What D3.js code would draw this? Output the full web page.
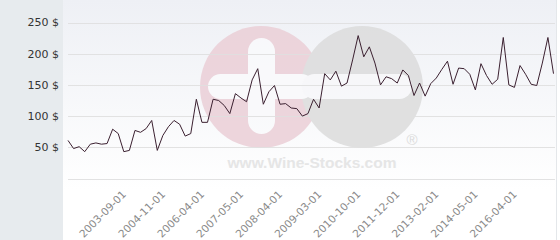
<!DOCTYPE html>
<html>
<head>
<meta charset="utf-8">
<script src="https://cdn.jsdelivr.net/npm/d3@7"></script>
<style>
  body { margin: 0; background: #fff; }
  svg { display: block; font-family: "DejaVu Sans", Verdana, sans-serif; }
</style>
</head>
<body>
<div id="chart"></div>
<script>
// price series, one value per point (in $)
var prices = [61, 48, 51, 43, 55, 57, 55, 56, 79, 72,
  43, 45, 77, 74, 80, 93, 45, 69, 83, 93,
  87, 68, 72, 127, 90, 90, 127, 125, 117, 104,
  136, 129, 123, 158, 176, 119, 139, 149, 119, 120,
  113, 112, 100, 104, 127, 113, 168, 158, 172, 148,
  153, 190, 229, 195, 211, 185, 150, 163, 160, 153,
  174, 165, 133, 153, 132, 152, 161, 175, 188, 151,
  177, 176, 167, 142, 184, 165, 151, 159, 226, 150,
  146, 181, 167, 151, 149, 185, 226, 168];

// category labels shown on the x axis, and the point they sit under
var tickLabels = ["2003-09-01", "2004-11-01", "2006-04-01", "2007-05-01", "2008-04-01",
  "2009-03-01", "2010-10-01", "2011-12-01", "2013-02-01", "2014-05-01", "2016-04-01"];
var tickIndex = [10, 17, 24, 31, 38, 45, 52, 59, 66, 73, 80];

var yTicks = [50, 100, 150, 200, 250];

var svgWidth = 560;
var svgHeight = 240;

var plot = { left: 63, right: 556, top: 0, bottom: 178.5 };

var svg = d3.select("#chart")
  .append("svg")
  .attr("width", svgWidth)
  .attr("height", svgHeight);

var defs = svg.append("defs");
var grad = defs.append("linearGradient")
  .attr("id", "bg")
  .attr("x1", 0).attr("y1", 0).attr("x2", 0).attr("y2", 1);
grad.append("stop").attr("offset", "0%").attr("stop-color", "#eef0f5");
grad.append("stop").attr("offset", "100%").attr("stop-color", "#ffffff");

// left grey band and plot background
svg.append("rect")
  .attr("x", 0).attr("y", 0)
  .attr("width", plot.left).attr("height", svgHeight)
  .attr("fill", "#e7ebee");

svg.append("rect")
  .attr("x", plot.left).attr("y", 0)
  .attr("width", plot.right - plot.left).attr("height", plot.bottom + 12)
  .attr("fill", "url(#bg)");

svg.append("line")
  .attr("x1", plot.right + 0.5).attr("x2", plot.right + 0.5)
  .attr("y1", 0).attr("y2", svgHeight)
  .attr("stroke", "#e4e7ea");

var x = d3.scaleLinear()
  .domain([0, prices.length - 1])
  .range([68, 553.5]);

var y = d3.scaleLinear()
  .domain([0, 250])
  .range([plot.bottom, 22.5]);

// watermark
var wm = svg.append("g").attr("opacity", 0.85);
wm.append("circle").attr("cx", 261).attr("cy", 87).attr("r", 61).attr("fill", "#ebcfd7");
wm.append("circle").attr("cx", 362).attr("cy", 87).attr("r", 61).attr("fill", "#dcdcdc");
wm.append("rect").attr("x", 248).attr("y", 38).attr("width", 27).attr("height", 96)
  .attr("rx", 13.5).attr("fill", "#fafafc");
wm.append("rect").attr("x", 208).attr("y", 74).attr("width", 106).attr("height", 25)
  .attr("rx", 12.5).attr("fill", "#fafafc");
wm.append("rect").attr("x", 302).attr("y", 74).attr("width", 110).attr("height", 25)
  .attr("rx", 12.5).attr("fill", "#f8f8fa");
wm.append("text")
  .attr("x", 412).attr("y", 140)
  .attr("dy", "0.35em")
  .attr("text-anchor", "middle")
  .attr("font-family", "Liberation Sans, Arial, sans-serif")
  .attr("font-size", 15)
  .attr("fill", "#d6d6d6")
  .text("®");
wm.append("text")
  .attr("x", 312).attr("y", 168)
  .attr("text-anchor", "middle")
  .attr("font-family", "Liberation Sans, Arial, sans-serif")
  .attr("font-weight", "bold")
  .attr("font-size", 15.5)
  .attr("fill", "#e2e2e2")
  .text("www.Wine-Stocks.com");

// grid lines
svg.append("g")
  .selectAll("line")
  .data([0].concat(yTicks))
  .enter().append("line")
  .attr("x1", 68).attr("x2", 555)
  .attr("y1", d => Math.round(y(d)) + 0.5)
  .attr("y2", d => Math.round(y(d)) + 0.5)
  .attr("stroke", "#e0e0e0")
  .attr("opacity", 0.9);

// y labels
svg.append("g")
  .selectAll("text")
  .data(yTicks)
  .enter().append("text")
  .attr("x", 59)
  .attr("y", d => y(d))
  .attr("dy", "0.35em")
  .attr("text-anchor", "end")
  .attr("font-size", 11)
  .attr("fill", "#333")
  .text(d => d + " $");

// x labels, rotated
svg.append("g")
  .selectAll("text")
  .data(tickIndex)
  .enter().append("text")
  .attr("transform", (d, i) => `translate(${x(d) + 3}, 195) rotate(-45)`)
  .attr("text-anchor", "end")
  .attr("font-size", 10.5)
  .attr("fill", "#8a8a8a")
  .text((d, i) => tickLabels[i]);

// price line
var line = d3.line()
  .x((d, i) => x(i))
  .y(d => y(d));

svg.append("path")
  .datum(prices)
  .attr("d", line)
  .attr("fill", "none")
  .attr("stroke", "#3b2030")
  .attr("stroke-width", 1);
</script>
</body>
</html>
